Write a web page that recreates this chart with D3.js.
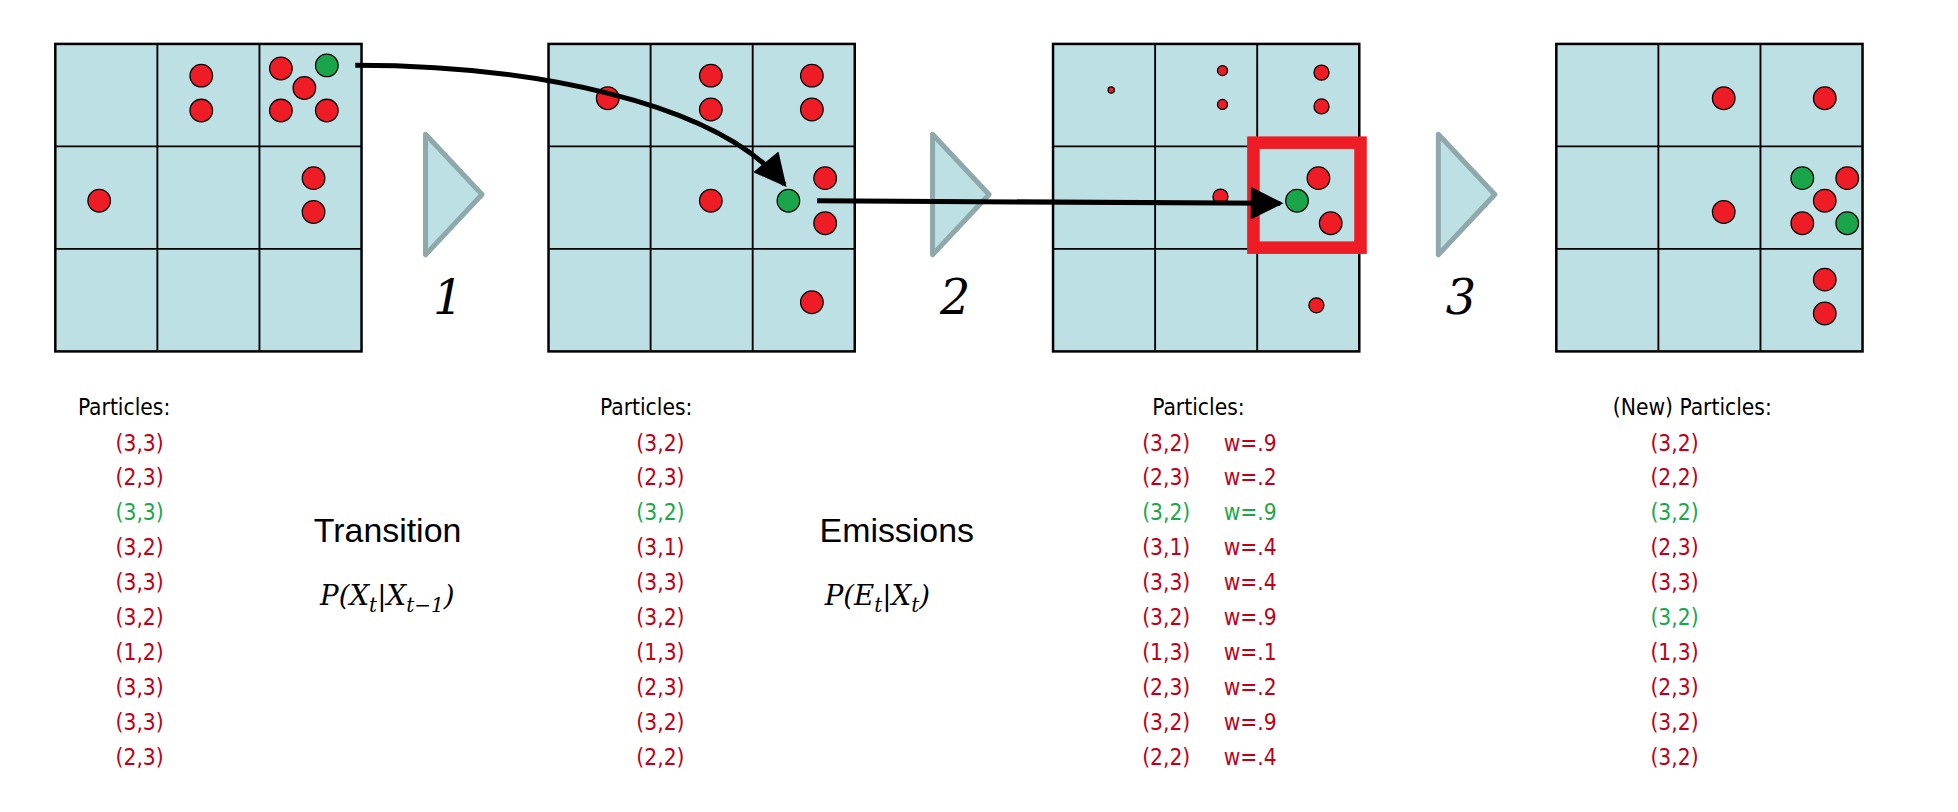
<!DOCTYPE html>
<html>
<head>
<meta charset="utf-8">
<script src="https://d3js.org/d3.v7.min.js"></script>
<style>body{margin:0;background:#fff}</style>
</head>
<body>
<script>
"use strict";
// particle dots per grid, in cell units [col, row, radius, green?]
var grid1Dots = [[1.43,0.31,9,0],[1.43,0.65,9,0],[2.21,0.24,9,0],[2.66,0.21,9,1],[2.44,0.43,9,0],
  [2.21,0.65,9,0],[2.66,0.65,9,0],[0.43,1.53,9,0],[2.53,1.31,9,0],[2.53,1.64,9,0]];
var grid2Dots = [[0.58,0.53,9,0],[1.59,0.31,9,0],[1.59,0.64,9,0],[2.58,0.31,9,0],[2.58,0.64,9,0],
  [1.59,1.53,9,0],[2.35,1.53,9,1],[2.71,1.31,9,0],[2.71,1.75,9,0],[2.58,2.52,9,0]];
var grid3Dots = [[0.57,0.45,2.5,0],[1.66,0.26,4,0],[1.66,0.59,4,0],[2.63,0.28,6,0],[2.63,0.61,6,0],
  [1.64,1.49,6,0],[2.39,1.53,9,1],[2.6,1.31,9,0],[2.72,1.75,9,0],[2.58,2.55,6,0]];
var grid4Dots = [[1.64,0.53,9,0],[2.63,0.53,9,0],[2.41,1.31,9,1],[2.85,1.31,9,0],[2.63,1.53,9,0],
  [2.41,1.75,9,0],[2.85,1.75,9,1],[1.64,1.64,9,0],[2.63,2.30,9,0],[2.63,2.63,9,0]];
var gridX = [44, 437, 839, 1240];

var headers = ["Particles:", "Particles:", "Particles:", "(New) Particles:"];
var list1 = ["(3,3)","(2,3)","(3,3)","(3,2)","(3,3)","(3,2)","(1,2)","(3,3)","(3,3)","(2,3)"];
var list2 = ["(3,2)","(2,3)","(3,2)","(3,1)","(3,3)","(3,2)","(1,3)","(2,3)","(3,2)","(2,2)"];
var list3 = ["(3,2)","(2,3)","(3,2)","(3,1)","(3,3)","(3,2)","(1,3)","(2,3)","(3,2)","(2,2)"];
var weights3 = ["w=.9","w=.2","w=.9","w=.4","w=.4","w=.9","w=.1","w=.2","w=.9","w=.4"];
var list4 = ["(3,2)","(2,2)","(3,2)","(2,3)","(3,3)","(3,2)","(1,3)","(2,3)","(3,2)","(3,2)"];
var green1 = [2], green2 = [2], green3 = [2], green4 = [2, 5];
var stepLabels = ["1", "2", "3"];

var RED = "#ee1c24", GREEN = "#1aa54b", TXTRED = "#c00018", TXTGREEN = "#19a84a";

var svg = d3.select("body").append("svg")
  .attr("width", 1958).attr("height", 812)
  .attr("viewBox", "0 0 1560 647");

var gx = d3.scaleLinear().domain([0, 3]).range([0, 244]);
var gy = d3.scaleLinear().domain([0, 3]).range([0, 245]);
var gridTop = 35;

svg.append("defs").append("marker")
  .attr("id", "ah").attr("viewBox", "0 0 10 10").attr("refX", 9).attr("refY", 5)
  .attr("markerWidth", 7).attr("markerHeight", 6.5).attr("markerUnits", "strokeWidth")
  .attr("orient", "auto")
  .append("path").attr("d", "M0,0 L10,5 L0,10 Z").attr("fill", "#000");

[grid1Dots, grid2Dots, grid3Dots, grid4Dots].forEach(function (dots, gi) {
  var g = svg.append("g").attr("transform", "translate(" + gridX[gi] + "," + gridTop + ")");
  g.append("rect").attr("width", gx(3)).attr("height", gy(3))
    .attr("fill", "#bde0e4").attr("stroke", "#000").attr("stroke-width", 2);
  [1, 2].forEach(function (k) {
    g.append("line").attr("x1", gx(k)).attr("x2", gx(k)).attr("y1", 0).attr("y2", gy(3))
      .attr("stroke", "#000").attr("stroke-width", 1.5);
    g.append("line").attr("y1", gy(k)).attr("y2", gy(k)).attr("x1", 0).attr("x2", gx(3))
      .attr("stroke", "#000").attr("stroke-width", 1.5);
  });
  g.selectAll("circle").data(dots).enter().append("circle")
    .attr("cx", function (d) { return gx(d[0]); })
    .attr("cy", function (d) { return gy(d[1]); })
    .attr("r", function (d) { return d[2]; })
    .attr("fill", function (d) { return d[3] ? GREEN : RED; })
    .attr("stroke", "#000").attr("stroke-width", 1);
  if (gi === 2) {
    g.append("rect").attr("x", gx(2) - 3).attr("y", gy(1) - 3)
      .attr("width", gx(1) + 4).attr("height", gy(1) + 2)
      .attr("fill", "none").attr("stroke", "#ee1c24").attr("stroke-width", 10);
  }
});

// transition chevrons and step numbers
stepLabels.forEach(function (s, i) {
  var x0 = [339, 743, 1146][i];
  svg.append("path")
    .attr("d", "M" + x0 + ",107 L" + (x0 + 45) + ",155 L" + x0 + ",203 Z")
    .attr("fill", "#bde0e4").attr("stroke", "#8fa8ab").attr("stroke-width", 4)
    .attr("stroke-linejoin", "round");
  svg.append("text").attr("x", x0 + 18).attr("y", 250)
    .attr("text-anchor", "middle")
    .attr("font-family", "DejaVu Serif, serif").attr("font-style", "italic")
    .attr("font-size", 38).text(s);
});

// arrows following the green particle
svg.append("path")
  .attr("d", "M283,52 C420,52 570,80 625,147")
  .attr("fill", "none").attr("stroke", "#000").attr("stroke-width", 4)
  .attr("marker-end", "url(#ah)");
svg.append("path")
  .attr("d", "M651,160 L1020,162")
  .attr("fill", "none").attr("stroke", "#000").attr("stroke-width", 4)
  .attr("marker-end", "url(#ah)");

// particle lists
var font = "DejaVu Sans Condensed, DejaVu Sans, sans-serif";
var listX = [92, 507, 910, 1315], headX = [62, 478, 918, 1285];
[list1, list2, list3, list4].forEach(function (lst, ci) {
  var greens = [green1, green2, green3, green4][ci];
  svg.append("text").attr("x", headX[ci]).attr("y", 331)
    .attr("font-family", font).attr("font-size", 18).attr("fill", "#000").text(headers[ci]);
  svg.selectAll(null).data(lst).enter().append("text")
    .attr("x", listX[ci]).attr("y", function (d, i) { return 359 + i * 27.8; })
    .attr("font-family", font).attr("font-size", 18)
    .attr("fill", function (d, i) { return greens.indexOf(i) >= 0 ? TXTGREEN : TXTRED; })
    .text(function (d) { return d; });
});
svg.selectAll(null).data(weights3).enter().append("text")
  .attr("x", 975).attr("y", function (d, i) { return 359 + i * 27.8; })
  .attr("font-family", font).attr("font-size", 18)
  .attr("fill", function (d, i) { return green3.indexOf(i) >= 0 ? TXTGREEN : TXTRED; })
  .text(function (d) { return d; });

// model labels
[["Transition", 250], ["Emissions", 653]].forEach(function (t) {
  svg.append("text").attr("x", t[1]).attr("y", 432)
    .attr("font-family", "Liberation Sans, Arial, sans-serif").attr("font-size", 27).text(t[0]);
});
var f1 = svg.append("text").attr("x", 255).attr("y", 482)
  .attr("font-family", "DejaVu Serif, serif").attr("font-style", "italic").attr("font-size", 22);
f1.append("tspan").text("P(X");
f1.append("tspan").attr("dy", 6).attr("font-size", 16).text("t");
f1.append("tspan").attr("dy", -6).text("|X");
f1.append("tspan").attr("dy", 6).attr("font-size", 16).text("t\u22121");
f1.append("tspan").attr("dy", -6).text(")");
var f2 = svg.append("text").attr("x", 657).attr("y", 482)
  .attr("font-family", "DejaVu Serif, serif").attr("font-style", "italic").attr("font-size", 22);
f2.append("tspan").text("P(E");
f2.append("tspan").attr("dy", 6).attr("font-size", 16).text("t");
f2.append("tspan").attr("dy", -6).text("|X");
f2.append("tspan").attr("dy", 6).attr("font-size", 16).text("t");
f2.append("tspan").attr("dy", -6).text(")");
</script>
</body>
</html>
